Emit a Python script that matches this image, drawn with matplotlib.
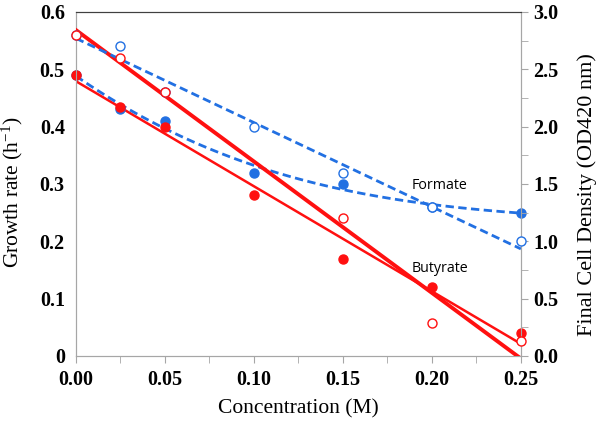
import numpy as np
import matplotlib.pyplot as plt

# concentration (M)
conc = [0.0, 0.025, 0.05, 0.10, 0.15, 0.20, 0.25]

# growth rate (h-1), left axis, filled markers
butyrate_rate = [0.49, 0.435, 0.40, 0.28, 0.17, 0.12, 0.04]
formate_rate = [0.49, 0.43, 0.41, 0.32, 0.30, 0.26, 0.25]

# final cell density (OD420), right axis, open markers
butyrate_od_conc = [0.0, 0.025, 0.05, 0.15, 0.20, 0.25]
butyrate_od = [2.80, 2.60, 2.30, 1.20, 0.29, 0.13]
formate_od = [2.80, 2.70, 2.30, 2.00, 1.60, 1.30, 1.00]

RED = "#ff1010"
BLUE = "#2270e2"
GRAY = "#a6a6a6"

plt.rcParams["mathtext.fontset"] = "custom"
plt.rcParams["mathtext.rm"] = "Liberation Serif"
plt.rcParams["mathtext.it"] = "Liberation Serif"

fig = plt.figure(figsize=(5.98, 4.21), dpi=100)
ax = fig.add_axes([0.127, 0.1544, 0.744, 0.8171])
ax2 = ax.twinx()

xs = np.linspace(0, 0.25, 100)

# trend lines
p = np.polyfit(conc, butyrate_rate, 1)
ax.plot(xs, np.polyval(p, xs), color=RED, lw=1.8, zorder=3)
p = np.polyfit(conc, formate_rate, 3)
ax.plot(xs, np.polyval(p, xs), color=BLUE, lw=2, ls=(0, (3, 1.6)), zorder=3)
p = np.polyfit(butyrate_od_conc, butyrate_od, 1)
ax2.plot(xs, np.polyval(p, xs), color=RED, lw=2.8, zorder=3)
p = np.polyfit(conc, formate_od, 1)
ax2.plot(xs, np.polyval(p, xs), color=BLUE, lw=2, ls=(0, (3, 1.6)), zorder=3)

# markers
ax.plot(conc, formate_rate, "o", color=BLUE, ms=6.5, clip_on=False, zorder=4)
ax.plot(conc, butyrate_rate, "o", color=RED, ms=6.5, clip_on=False, zorder=4)
ax2.plot(conc, formate_od, "o", mfc="white", mec=BLUE, mew=1, ms=6.5, clip_on=False, zorder=4)
ax2.plot(butyrate_od_conc, butyrate_od, "o", mfc="white", mec=RED, mew=1, ms=6.5, clip_on=False, zorder=4)

ax.set_xlim(0, 0.25)
ax.set_ylim(0, 0.6)
ax2.set_ylim(0, 3.0)

ax.set_xticks([0, 0.05, 0.10, 0.15, 0.20, 0.25])
ax.set_xticks([0.025, 0.075, 0.125, 0.175, 0.225], minor=True)
ax.set_xticklabels(["0.00", "0.05", "0.10", "0.15", "0.20", "0.25"])
ax.set_yticks([0, 0.1, 0.2, 0.3, 0.4, 0.5, 0.6])
ax.set_yticklabels(["0", "0.1", "0.2", "0.3", "0.4", "0.5", "0.6"])
ax2.set_yticks([0, 0.5, 1.0, 1.5, 2.0, 2.5, 3.0])
ax2.set_yticks([0.25, 0.75, 1.25, 1.75, 2.25, 2.75], minor=True)
ax2.set_yticklabels(["0.0", "0.5", "1.0", "1.5", "2.0", "2.5", "3.0"])

tick_font = {"family": "Liberation Serif", "weight": "bold", "size": 14.5}
for lab in ax.get_xticklabels() + ax.get_yticklabels() + ax2.get_yticklabels():
    lab.set_fontproperties(tick_font)

ax.tick_params(axis="x", which="both", direction="out", length=5, color=GRAY, pad=5)
ax.tick_params(axis="y", length=0, pad=8)
ax2.tick_params(axis="y", which="both", direction="out", length=5, color=GRAY, pad=4)

for a in (ax, ax2):
    for side in ("left", "bottom", "right"):
        a.spines[side].set_color(GRAY)
    a.spines["top"].set_color("#404040")

ax.set_xlabel("Concentration (M)", family="Liberation Serif", fontsize=15.5)
ax.xaxis.set_label_coords(0.5, -0.125)
ax.set_ylabel("Growth rate (h$^{\\mathregular{-1}}$)", family="Liberation Serif", fontsize=15.5)
ax.yaxis.set_label_coords(-0.115, 0.477)
ax2.set_ylabel("Final Cell Density (OD420 nm)", family="Liberation Serif", fontsize=16)
ax2.yaxis.set_label_coords(1.126, 0.468)

ax.text(0.2045, 0.298, "Formate", family="Open Sans", fontsize=10.3, va="center", ha="center")
ax.text(0.2045, 0.152, "Butyrate", family="Open Sans", fontsize=10.3, va="center", ha="center")

fig.savefig("out.png", dpi=100)
